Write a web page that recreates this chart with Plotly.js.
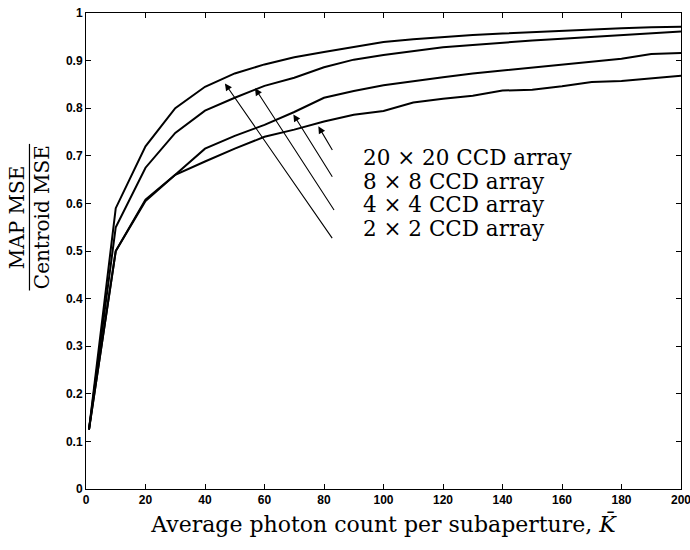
<!DOCTYPE html>
<html>
<head>
<meta charset="utf-8">
<script src="https://cdn.plot.ly/plotly-3.0.1.min.js"></script>
<style>
  html, body { margin: 0; padding: 0; background: #fff; }
  #chart { width: 690px; height: 550px; }
</style>
</head>
<body>
<div id="chart"></div>
<script>
// Average photon count per subaperture
const photonCount = [1, 10, 20, 30, 40, 50, 60, 70, 80, 90, 100, 110, 120, 130, 140, 150, 160, 170, 180, 190, 200];

// MAP MSE / Centroid MSE ratio for each CCD array size
const ccd20 = [0.125, 0.59, 0.72, 0.80, 0.845, 0.873, 0.892, 0.907, 0.918, 0.929, 0.939, 0.945, 0.950, 0.954, 0.957, 0.960, 0.963, 0.966, 0.968, 0.970, 0.971];
const ccd8  = [0.125, 0.55, 0.675, 0.748, 0.795, 0.822, 0.847, 0.864, 0.886, 0.902, 0.912, 0.920, 0.928, 0.933, 0.938, 0.942, 0.946, 0.950, 0.954, 0.958, 0.961];
const ccd4  = [0.125, 0.50, 0.608, 0.66, 0.715, 0.742, 0.765, 0.792, 0.822, 0.836, 0.848, 0.857, 0.865, 0.873, 0.879, 0.885, 0.891, 0.897, 0.904, 0.914, 0.916];
const ccd2  = [0.125, 0.50, 0.605, 0.66, 0.688, 0.715, 0.740, 0.755, 0.772, 0.786, 0.794, 0.812, 0.820, 0.826, 0.837, 0.839, 0.846, 0.855, 0.857, 0.862, 0.868];

const seriesLabels = ['20 \u00d7 20 CCD array', '8 \u00d7 8 CCD array', '4 \u00d7 4 CCD array', '2 \u00d7 2 CCD array'];
const xTicks = [0, 20, 40, 60, 80, 100, 120, 140, 160, 180, 200];

const serif = 'DejaVu Serif, Liberation Serif, serif';
const tickFont = { family: 'Liberation Sans, Arial, sans-serif', size: 12, color: '#000', weight: 'bold' };

const traces = [ccd20, ccd8, ccd4, ccd2].map((vals, i) => ({
  x: photonCount,
  y: vals,
  type: 'scatter',
  mode: 'lines',
  name: seriesLabels[i],
  line: { color: '#000', width: 2 },
  hoverinfo: 'skip'
}));

// Label block and the arrows leading from it to the curves
const labelY = [0.697, 0.647, 0.597, 0.548];
const arrows = [
  { tail: [83.1, 0.709], tip: [78.1, 0.762] },
  { tail: [83.1, 0.653], tip: [69.7, 0.787] },
  { tail: [83.7, 0.583], tip: [56.8, 0.842] },
  { tail: [83.1, 0.524], tip: [46.7, 0.852] }
];

const annotations = [];
seriesLabels.forEach((t, i) => {
  annotations.push({
    x: 92.3, y: labelY[i], xref: 'x', yref: 'y',
    text: t, showarrow: false, xanchor: 'left', yanchor: 'middle',
    font: { family: serif, size: 21.5, color: '#000' }
  });
});
arrows.forEach(a => {
  annotations.push({
    x: a.tip[0], y: a.tip[1], ax: a.tail[0], ay: a.tail[1],
    xref: 'x', yref: 'y', axref: 'x', ayref: 'y',
    text: '', showarrow: true, arrowhead: 2, arrowsize: 1.3, arrowwidth: 1.1,
    arrowcolor: '#000', standoff: 0, startstandoff: 0
  });
});

// Y-axis label drawn as a stacked fraction
annotations.push({
  x: -0.116, y: 0.571, xref: 'paper', yref: 'paper',
  text: 'MAP MSE', showarrow: false, textangle: -90,
  xanchor: 'center', yanchor: 'middle',
  font: { family: serif, size: 20, color: '#000' }
});
annotations.push({
  x: -0.074, y: 0.571, xref: 'paper', yref: 'paper',
  text: 'Centroid MSE', showarrow: false, textangle: -90,
  xanchor: 'center', yanchor: 'middle',
  font: { family: serif, size: 20, color: '#000' }
});

const layout = {
  width: 690,
  height: 550,
  margin: { l: 86, r: 9, t: 13, b: 61 },
  paper_bgcolor: '#fff',
  plot_bgcolor: '#fff',
  showlegend: false,
  xaxis: {
    range: [0, 200],
    tickvals: xTicks,
    ticktext: xTicks.map(String),
    ticklabeloverflow: 'allow',
    ticks: 'inside', ticklen: 5, tickwidth: 1, tickcolor: '#000',
    showline: true, linecolor: '#000', linewidth: 1, mirror: 'allticks',
    showgrid: false, zeroline: false,
    tickfont: tickFont,
    title: {
      text: 'Average photon count per subaperture, <i>K\u0304</i>',
      font: { family: serif, size: 22, color: '#000' },
      standoff: 10
    }
  },
  yaxis: {
    range: [0, 1],
    dtick: 0.1,
    ticks: 'inside', ticklen: 5, tickwidth: 1, tickcolor: '#000',
    showline: true, linecolor: '#000', linewidth: 1, mirror: 'allticks',
    showgrid: false, zeroline: false,
    tickfont: tickFont
  },
  annotations: annotations,
  shapes: [{
    type: 'line', xref: 'paper', yref: 'paper',
    x0: -0.095, x1: -0.095, y0: 0.417, y1: 0.725,
    line: { color: '#000', width: 1.2 }
  }]
};

Plotly.newPlot('chart', traces, layout, { displayModeBar: false, staticPlot: true });
</script>
</body>
</html>
